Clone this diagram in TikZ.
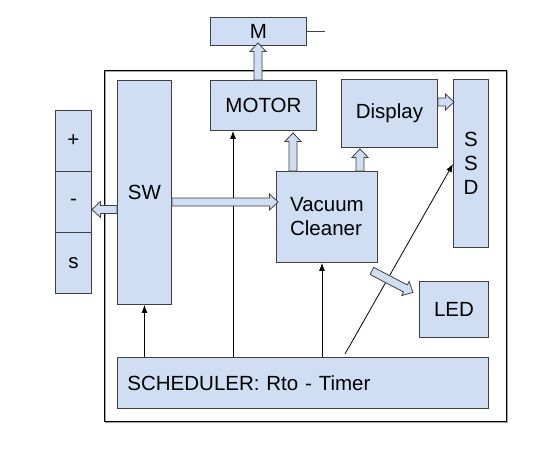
\documentclass[tikz,border=0pt]{standalone}
\usepackage{fontspec}
\setmainfont{Liberation Sans}
\usetikzlibrary{calc,arrows.meta}
\definecolor{boxfill}{HTML}{CFDEF3}
\definecolor{linec}{HTML}{404040}
\tikzset{
  blockarr/.style={draw=linec, fill=boxfill, line width=0.8pt, line join=miter},
  thinarr/.style={draw=black, line width=0.8pt, -{Latex[length=8pt,width=6pt]}},
  box/.style={draw=linec, fill=boxfill, line width=0.9pt, anchor=north west, inner sep=0pt, text=black},
  framebox/.style={draw=black, line width=1pt, anchor=north west, inner sep=0pt}
}
\newcommand\blockarrow[2]{%
  \path let \p1=(#1), \p2=(#2) in \pgfextra{%
    \pgfmathsetmacro\tmpa{atan2(\y2-\y1,\x2-\x1)}\xdef\baang{\tmpa}%
    \pgfmathsetmacro\tmpa{veclen(\x2-\x1,\y2-\y1)}\xdef\balen{\tmpa}%
    \pgfmathsetmacro\tmpa{\x1}\xdef\bax{\tmpa}%
    \pgfmathsetmacro\tmpa{\y1}\xdef\bay{\tmpa}};
  \pgfmathsetmacro\bab{\balen-8.5}%
  \draw[blockarr, shift={(\bax pt,\bay pt)}, rotate=\baang]
    (0pt,-4pt) -- (\bab pt,-4pt) -- (\bab pt,-8pt) -- (\balen pt,0pt)
    -- (\bab pt,8pt) -- (\bab pt,4pt) -- (0pt,4pt) -- cycle;
}
\begin{document}
\begin{tikzpicture}[x=1pt,y=-1pt,font=\fontsize{20.5}{24}\selectfont]
\useasboundingbox (0,0) rectangle (558,458);
% outer frame with faint shadow
\draw[black!35, line width=1pt] (105.5,71.5) rectangle (507.5,422.5);
\node[framebox, minimum width=402pt, minimum height=351pt] (frame) at (104,70) {};
% boxes
\node[box, minimum width=96pt, minimum height=28pt] (m) at (210,17) {M};
\node[box, minimum width=106pt, minimum height=50pt] (mot) at (210,80) {MOTOR};
\node[box, minimum width=54pt, minimum height=224pt] (sw) at (117,80) {SW};
\node[box, minimum width=36pt, minimum height=61pt] (plus) at (55,110) {+};
\node[box, minimum width=36pt, minimum height=61pt] (minus) at (55,171) {-};
\node[box, minimum width=36pt, minimum height=61pt] (sbox) at (55,232) {s};
\node[box, minimum width=96pt, minimum height=68pt] (disp) at (341,79) {Display};
\node[box, minimum width=35pt, minimum height=168pt, align=center] (ssd) at (453,79) {S\\S\\D};
\node[box, minimum width=101pt, minimum height=91pt, align=left] (vac) at (276,171) {Vacuum\\Cleaner};
\node[box, minimum width=69pt, minimum height=56pt] (led) at (419,281) {LED};
\node[box, minimum width=371pt, minimum height=51pt, text width=351pt, align=left, inner xsep=10pt] (sch) at (117,357) {SCHEDULER: Rto - Timer};
% stub on M
\coordinate (mstub) at ($(m.east)+(18,0)$);
\draw[linec, line width=0.9pt] (m.east) -- (mstub);
% thin arrows from scheduler
\coordinate (a1) at ($(mot.south west)+(23,0)$);
\coordinate (a2) at ($(vac.south west)+(46,0)$);
\coordinate (a3) at ($(sch.north west)+(228,-3)$);
\coordinate (a4) at ($(ssd.north west)+(0,85)$);
\draw[thinarr] (sw.south |- sch.north) -- (sw.south);
\draw[thinarr] (a1 |- sch.north) -- (a1);
\draw[thinarr] (a2 |- sch.north) -- (a2);
\draw[thinarr] (a3) -- (a4);
% block arrows
\coordinate (b1) at ($(mot.north west)+(48,0)$);
\coordinate (b1e) at ($(m.south west)+(48,-3)$);
\coordinate (b2) at ($(vac.north west)+(17,0)$);
\coordinate (b2e) at ($(mot.south west)+(83,2)$);
\coordinate (b3) at ($(vac.north west)+(84,0)$);
\coordinate (b3e) at ($(disp.south west)+(19,1)$);
\coordinate (b4) at ($(disp.north east)+(0,23)$);
\coordinate (b4e) at ($(ssd.north west)+(1,23)$);
\coordinate (b5) at ($(sw.north east)+(0,122)$);
\coordinate (b5e) at ($(vac.north west)+(2,31)$);
\coordinate (b6) at ($(sw.north west)+(0,129.5)$);
\coordinate (b6e) at ($(minus.north east)+(0,38.5)$);
\coordinate (b7) at ($(vac.south east)+(-6,8)$);
\coordinate (b7e) at ($(led.west)+(-6,-17)$);
\blockarrow{b1}{b1e}
\blockarrow{b2}{b2e}
\blockarrow{b3}{b3e}
\blockarrow{b4}{b4e}
\blockarrow{b5}{b5e}
\blockarrow{b6}{b6e}
\blockarrow{b7}{b7e}
\end{tikzpicture}
\end{document}
